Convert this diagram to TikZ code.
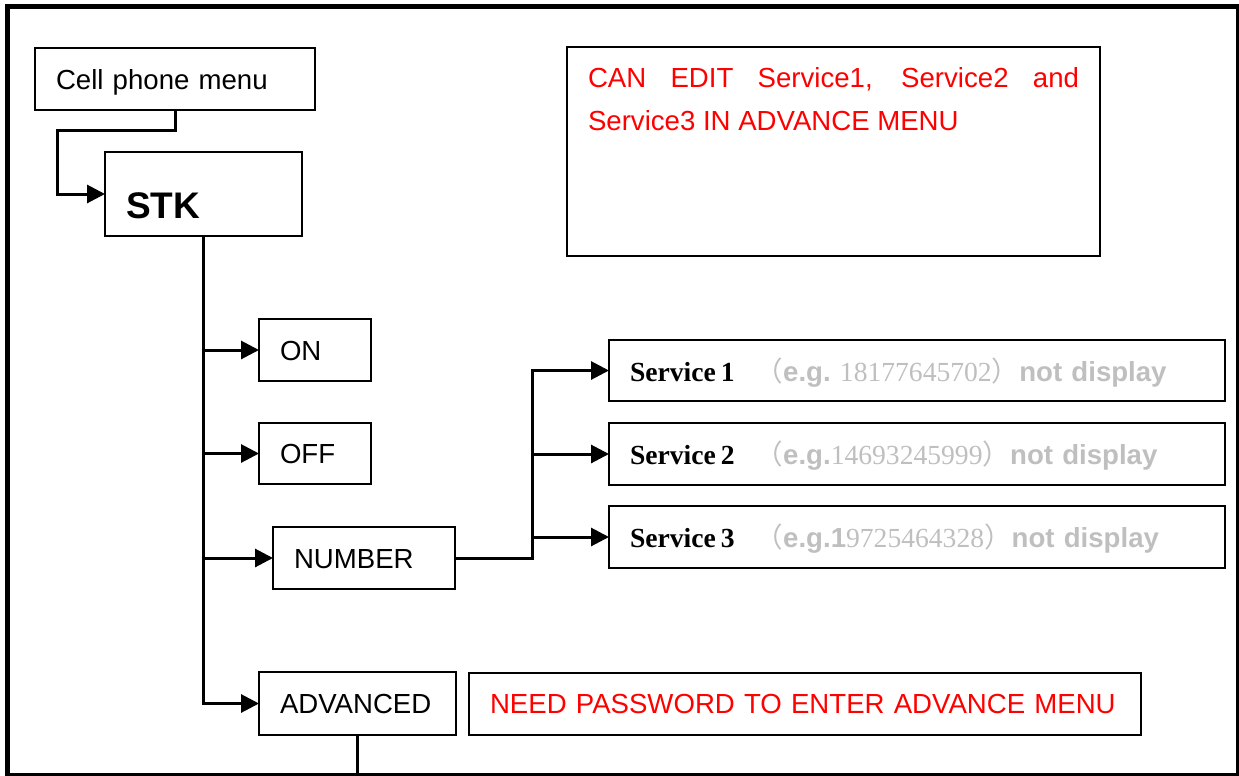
\documentclass[tikz,border=0pt]{standalone}
\usepackage{fontspec}
\setmainfont{Liberation Sans}
\newfontfamily\timesfont{Liberation Serif}
\newfontfamily\cjk{Noto Sans CJK SC}
\usetikzlibrary{arrows.meta}
\definecolor{hintgray}{RGB}{191,191,191}
\definecolor{notered}{RGB}{255,0,0}

\begin{document}
\begin{tikzpicture}[x=1pt,y=-1pt,
  box/.style={draw,line width=2pt,anchor=north west,inner xsep=21pt,inner ysep=0pt,outer sep=0pt,
    align=left,text height=20pt,text depth=0pt,font=\fontsize{27.6}{34}\selectfont},
  conn/.style={line width=3pt,-{Triangle[length=18pt,width=18pt]}}]
\useasboundingbox (0,0) rectangle (1239,776);
\coordinate (frame-nw) at (7.5,6.5);
\coordinate (frame-se) at (1238.5,775.5);
\draw[line width=5pt] (frame-nw) rectangle (frame-se);

\node[box,minimum width=280pt,minimum height=62pt,text width=238pt] (cell) at (35,48) {Cell phone menu};
\node[box,minimum width=197pt,minimum height=84pt,text width=155pt,text height=48pt,
  font=\fontsize{37}{40}\selectfont\bfseries] (stk) at (105,152) {STK};
\node[box,minimum width=533pt,text width=491pt,align=justify,text=notered,text height=41pt,text depth=168pt,
  font=\fontsize{27.6}{43}\selectfont] (note) at (567,47) {CAN EDIT Service1, Service2 and\linebreak Service3 IN ADVANCE MENU};

\node[box,minimum width=112pt,minimum height=62pt,text width=70pt] (on) at (259,319) {ON};
\node[box,minimum width=112pt,minimum height=61pt,text width=70pt] (off) at (259,423) {OFF};
\node[box,minimum width=182pt,minimum height=62pt,text width=140pt] (num) at (273,527) {NUMBER};
\node[box,minimum width=197pt,minimum height=63pt,text width=155pt] (adv) at (259,672) {ADVANCED};
\node[box,minimum width=672pt,minimum height=62pt,text width=630pt,text=notered,text height=18pt] (pwd) at (469,673)
  {\mbox{NEED PASSWORD TO ENTER ADVANCE MENU}};

% services under NUMBER
\node[box,minimum width=616pt,minimum height=61pt,text width=574pt,text height=21pt] (s1) at (609,340)
  {\mbox{{\timesfont\bfseries Service\kern5pt 1}\hspace{21pt}{\color{hintgray}{\cjk （}\textbf{e.g.}\ {\timesfont 18177645702}{\cjk ）}\textbf{not display}}}};
\node[box,minimum width=616pt,minimum height=62pt,text width=574pt,text height=21pt] (s2) at (609,423)
  {\mbox{{\timesfont\bfseries Service\kern5pt 2}\hspace{21pt}{\color{hintgray}{\cjk （}\textbf{e.g.}{\timesfont 14693245999}{\cjk ）}\textbf{not display}}}};
\node[box,minimum width=616pt,minimum height=62pt,text width=574pt,text height=21pt] (s3) at (609,506)
  {\mbox{{\timesfont\bfseries Service\kern5pt 3}\hspace{21pt}{\color{hintgray}{\cjk （}\textbf{e.g.1}{\timesfont 9725464328}{\cjk ）}\textbf{not display}}}};

\draw[conn] (cell.south) -- ++(0,20) -| ([xshift=-48pt]stk.west) -- (stk.west);
\draw[conn] (stk.south) |- (on.west);
\draw[conn] (stk.south) |- (off.west);
\draw[conn] (stk.south) |- (num.west);
\draw[conn] (stk.south) |- (adv.west);
\coordinate (fork) at ([xshift=77pt]num.east);
\draw[conn] (num.east) -- (fork) |- (s1.west);
\draw[conn] (fork) |- (s2.west);
\draw[conn] (fork) |- (s3.west);
\draw[line width=3pt] (adv.south) -- (adv.south |- frame-se);
\end{tikzpicture}
\end{document}
